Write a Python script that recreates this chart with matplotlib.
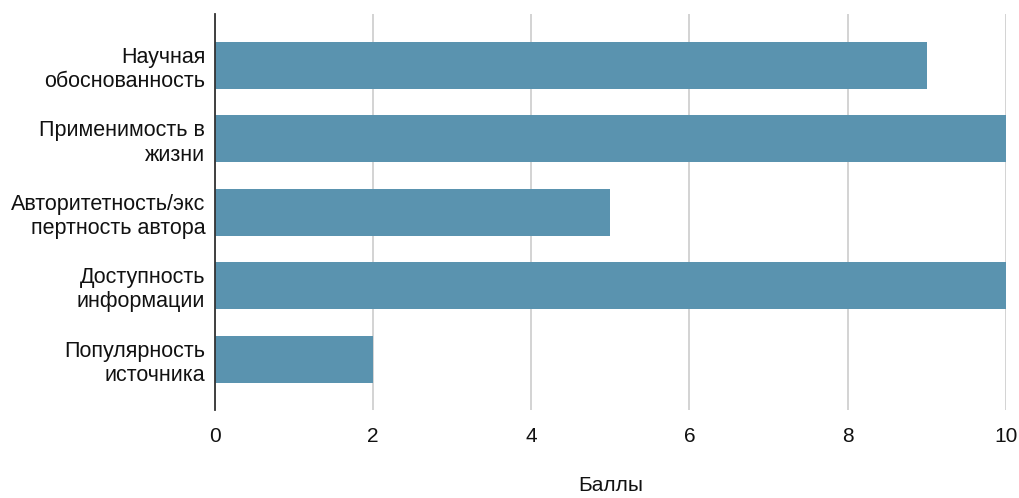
import matplotlib.pyplot as plt

plt.rcParams['font.family'] = ['Liberation Sans', 'DejaVu Sans']

categories = ['Научная\nобоснованность', 'Применимость в\nжизни',
              'Авторитетность/экс\nпертность автора', 'Доступность\nинформации',
              'Популярность\nисточника']
scores = [9, 10, 5, 10, 2]

fig = plt.figure(figsize=(10.19, 4.98), dpi=100)
ax = fig.add_axes([0.211, 0.177, 0.776, 0.795])

pos = list(range(len(categories)))
ax.barh(pos, scores, height=0.64, color='#5a93af', zorder=3)

ax.set_ylim(4.69, -0.7)
ax.set_xlim(0, 10)
ax.set_xticks([0, 2, 4, 6, 8, 10])
ax.set_yticks(pos)
ax.set_yticklabels(categories, fontsize=15.5, linespacing=1.2, ha='right')
ax.tick_params(axis='x', labelsize=15, length=0, pad=12, colors='#111111')
ax.tick_params(axis='y', length=0, pad=7, colors='#111111')
ax.grid(axis='x', color='#cccccc', linewidth=1.2, zorder=0)
for s in ['top', 'right', 'bottom']:
    ax.spines[s].set_visible(False)
ax.spines['left'].set_color('#333333')
ax.spines['left'].set_linewidth(1.3)
ax.spines['left'].set_zorder(4)

ax.set_xlabel('Баллы', fontsize=15, color='#111111', labelpad=22)

plt.savefig('out.png', dpi=100)
